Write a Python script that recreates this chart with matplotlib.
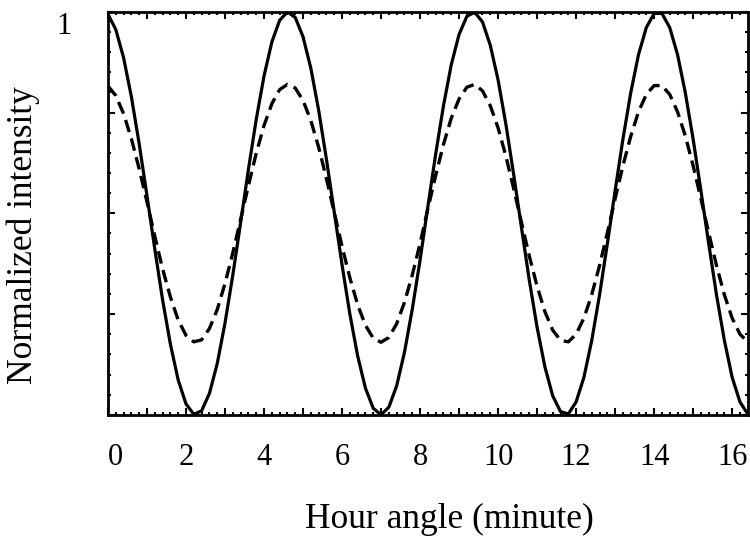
import matplotlib
matplotlib.use("Agg")
import matplotlib.pyplot as plt
import numpy as np
from matplotlib.ticker import MultipleLocator

hour_angle = np.round(np.arange(0, 16.41, 0.2), 1)

# solid curve (full modulation)
solid_val = [0.994, 0.956, 0.886, 0.789, 0.672, 0.543, 0.411, 0.285, 0.175, 0.086,
             0.027, 0.001, 0.010, 0.053, 0.127, 0.228, 0.347, 0.477, 0.609, 0.733,
             0.841, 0.925, 0.979, 1.000, 0.986, 0.938, 0.860, 0.756, 0.634, 0.503,
             0.372, 0.250, 0.146, 0.066, 0.016, 0.000, 0.019, 0.072, 0.155, 0.262,
             0.384, 0.517, 0.647, 0.767, 0.869, 0.944, 0.989, 0.999, 0.975, 0.917,
             0.831, 0.721, 0.596, 0.464, 0.334, 0.217, 0.119, 0.047, 0.008, 0.002,
             0.032, 0.093, 0.184, 0.297, 0.424, 0.556, 0.684, 0.799, 0.894, 0.961,
             0.996, 0.996, 0.961, 0.894, 0.799, 0.684, 0.556, 0.424, 0.297, 0.185,
             0.093, 0.032, 0.002]

# dashed curve (reduced modulation)
dashed_val = [0.816, 0.792, 0.747, 0.685, 0.610, 0.528, 0.443, 0.362, 0.292, 0.235,
              0.197, 0.181, 0.186, 0.214, 0.261, 0.326, 0.402, 0.485, 0.569, 0.649,
              0.718, 0.772, 0.807, 0.820, 0.811, 0.780, 0.730, 0.664, 0.586, 0.502,
              0.418, 0.340, 0.273, 0.222, 0.190, 0.180, 0.192, 0.226, 0.279, 0.347,
              0.425, 0.511, 0.594, 0.671, 0.736, 0.784, 0.813, 0.820, 0.804, 0.767,
              0.712, 0.642, 0.561, 0.477, 0.394, 0.319, 0.256, 0.210, 0.185, 0.181,
              0.200, 0.240, 0.298, 0.370, 0.451, 0.536, 0.618, 0.691, 0.752, 0.795,
              0.817, 0.817, 0.795, 0.752, 0.692, 0.618, 0.536, 0.451, 0.370, 0.298,
              0.240, 0.200, 0.181]

x_ticks = list(range(0, 17))
x_labels = [str(t) if t % 2 == 0 else "" for t in x_ticks]
y_ticks = [0, 0.25, 0.5, 0.75, 1.0]
y_labels = ["", "", "", "", "1"]

plt.rcParams['font.family'] = ['Liberation Serif', 'DejaVu Serif']

fig = plt.figure(figsize=(7.5, 5.38), dpi=100)
ax = fig.add_axes([0.144, 0.229, 0.853, 0.749])

ax.plot(hour_angle, solid_val, color='black', lw=2.3, solid_capstyle='round')
ax.plot(hour_angle, dashed_val, color='black', lw=2.4, dashes=(3.8, 2.0))

ax.set_xlim(0, 16.4)
ax.set_ylim(0, 1)
ax.set_xticks(x_ticks)
ax.set_xticklabels(x_labels)
ax.set_yticks(y_ticks)
ax.set_yticklabels(y_labels)
ax.xaxis.set_minor_locator(MultipleLocator(0.2))
ax.yaxis.set_minor_locator(MultipleLocator(0.05))

ax.tick_params(which='both', direction='in', top=True, right=True, width=1.5)
ax.tick_params(which='major', length=5)
ax.tick_params(which='minor', length=2.5)
ax.tick_params(axis='x', which='major', labelsize=22, pad=20)
ax.tick_params(axis='y', which='major', labelsize=22, pad=26)
ax.get_xticklabels()[0].set_ha('left')      # "0" sits a bit right of the corner
for lab in ax.get_yticklabels():
    lab.set_va('top')

for sp in ax.spines.values():
    sp.set_linewidth(2.0)

ax.set_xlabel("Hour angle (minute)", fontsize=25.5)
ax.set_ylabel("Normalized intensity", fontsize=25.5)
ax.xaxis.set_label_coords(0.534, -0.218)
ax.yaxis.set_label_coords(-0.106, 0.447)

fig.savefig("out.png", dpi=100)
